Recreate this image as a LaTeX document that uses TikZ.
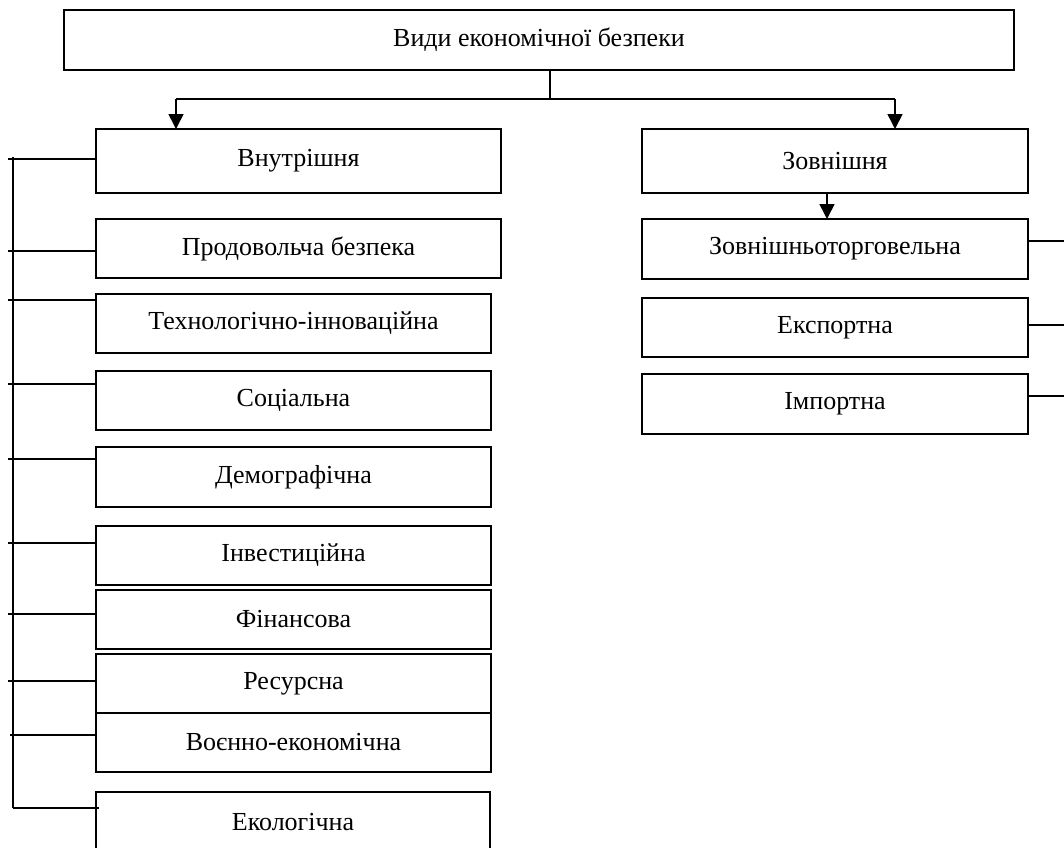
\documentclass[tikz,border=0pt]{standalone}
\usepackage{fontspec}
\setmainfont{Liberation Serif}
\usetikzlibrary{arrows.meta,calc}
\begin{document}
\begin{tikzpicture}[x=1pt,y=-1pt,
  every node/.style={font=\fontsize{26}{30}\selectfont},
  box/.style={draw,line width=1.6pt,inner sep=0pt,outer sep=0pt,anchor=north west,align=center},
  ln/.style={line width=1.6pt},
  arr/.style={line width=1.6pt,-{Triangle[width=15pt,length=15pt]}}]
\clip (0,0) rectangle (1064,847);
\fill[white] (0,0) rectangle (1064,847);
% top
\node[box,minimum width=950pt,minimum height=60pt] (top) at (64,10) {Види економічної безпеки};
% left column
\node[box,minimum width=405pt,minimum height=64pt] (vn) at (96,129) {Внутрішня};
\node[box,minimum width=405pt,minimum height=59pt] (prod) at (96,219) {Продовольча безпека};
\node[box,minimum width=395pt,minimum height=59pt] (tech) at (96,294) {Технологічно-інноваційна};
\node[box,minimum width=395pt,minimum height=59pt] (soc) at (96,371) {Соціальна};
\node[box,minimum width=395pt,minimum height=60pt] (dem) at (96,447) {Демографічна};
\node[box,minimum width=395pt,minimum height=59pt] (inv) at (96,526) {Інвестиційна};
\node[box,minimum width=395pt,minimum height=59pt] (fin) at (96,590) {Фінансова};
\node[box,minimum width=395pt,minimum height=59pt] (res) at (96,654) {Ресурсна};
\node[box,minimum width=395pt,minimum height=59pt] (voen) at (96,713) {Воєнно-економічна};
\node[box,minimum width=394pt,minimum height=60pt] (eko) at (96,792) {Екологічна};
% right column
\node[box,minimum width=386pt,minimum height=64pt] (zov) at (642,129) {Зовнішня};
\node[box,minimum width=386pt,minimum height=60pt] (zt) at (642,219) {Зовнішньоторговельна};
\node[box,minimum width=386pt,minimum height=59pt] (exp) at (642,298) {Експортна};
\node[box,minimum width=386pt,minimum height=60pt] (imp) at (642,374) {Імпортна};
% top connectors
\coordinate (split) at (550,99);
\coordinate (la) at (176,99);
\coordinate (ra) at (895,99);
\draw[ln] (top.south -| split) -- (split);
\draw[ln] (la) -- (ra);
\draw[arr] (la) -- (la |- vn.north);
\draw[arr] (ra) -- (ra |- zov.north);
\coordinate (zd) at (827,0);
\draw[arr] (zd |- zov.south) -- (zd |- zt.north);
% right side lines
\coordinate (r1) at (1064,241);
\coordinate (r2) at (1064,325);
\coordinate (r3) at (1064,396);
\draw[ln] (r1 -| zt.east) -- (r1);
\draw[ln] (r2 -| exp.east) -- (r2);
\draw[ln] (r3 -| imp.east) -- (r3);
% left bracket
\coordinate (vt) at (13,157);
\coordinate (vb) at (13,808);
\draw[ln] (vt) -- (vb);
\coordinate (l1) at (8,159);
\coordinate (l2) at (8,251);
\coordinate (l3) at (8,300);
\coordinate (l4) at (8,384);
\coordinate (l5) at (8,459);
\coordinate (l6) at (8,543);
\coordinate (l7) at (8,614);
\coordinate (l8) at (8,681);
\coordinate (l9) at (10,735);
\draw[ln] (l1) -- (l1 -| vn.west);
\draw[ln] (l2) -- (l2 -| prod.west);
\draw[ln] (l3) -- (l3 -| tech.west);
\draw[ln] (l4) -- (l4 -| soc.west);
\draw[ln] (l5) -- (l5 -| dem.west);
\draw[ln] (l6) -- (l6 -| inv.west);
\draw[ln] (l7) -- (l7 -| fin.west);
\draw[ln] (l8) -- (l8 -| res.west);
\draw[ln] (l9) -- (l9 -| voen.west);
\draw[ln] (vb) -- ($(vb -| eko.west)+(3,0)$);
\end{tikzpicture}
\end{document}
